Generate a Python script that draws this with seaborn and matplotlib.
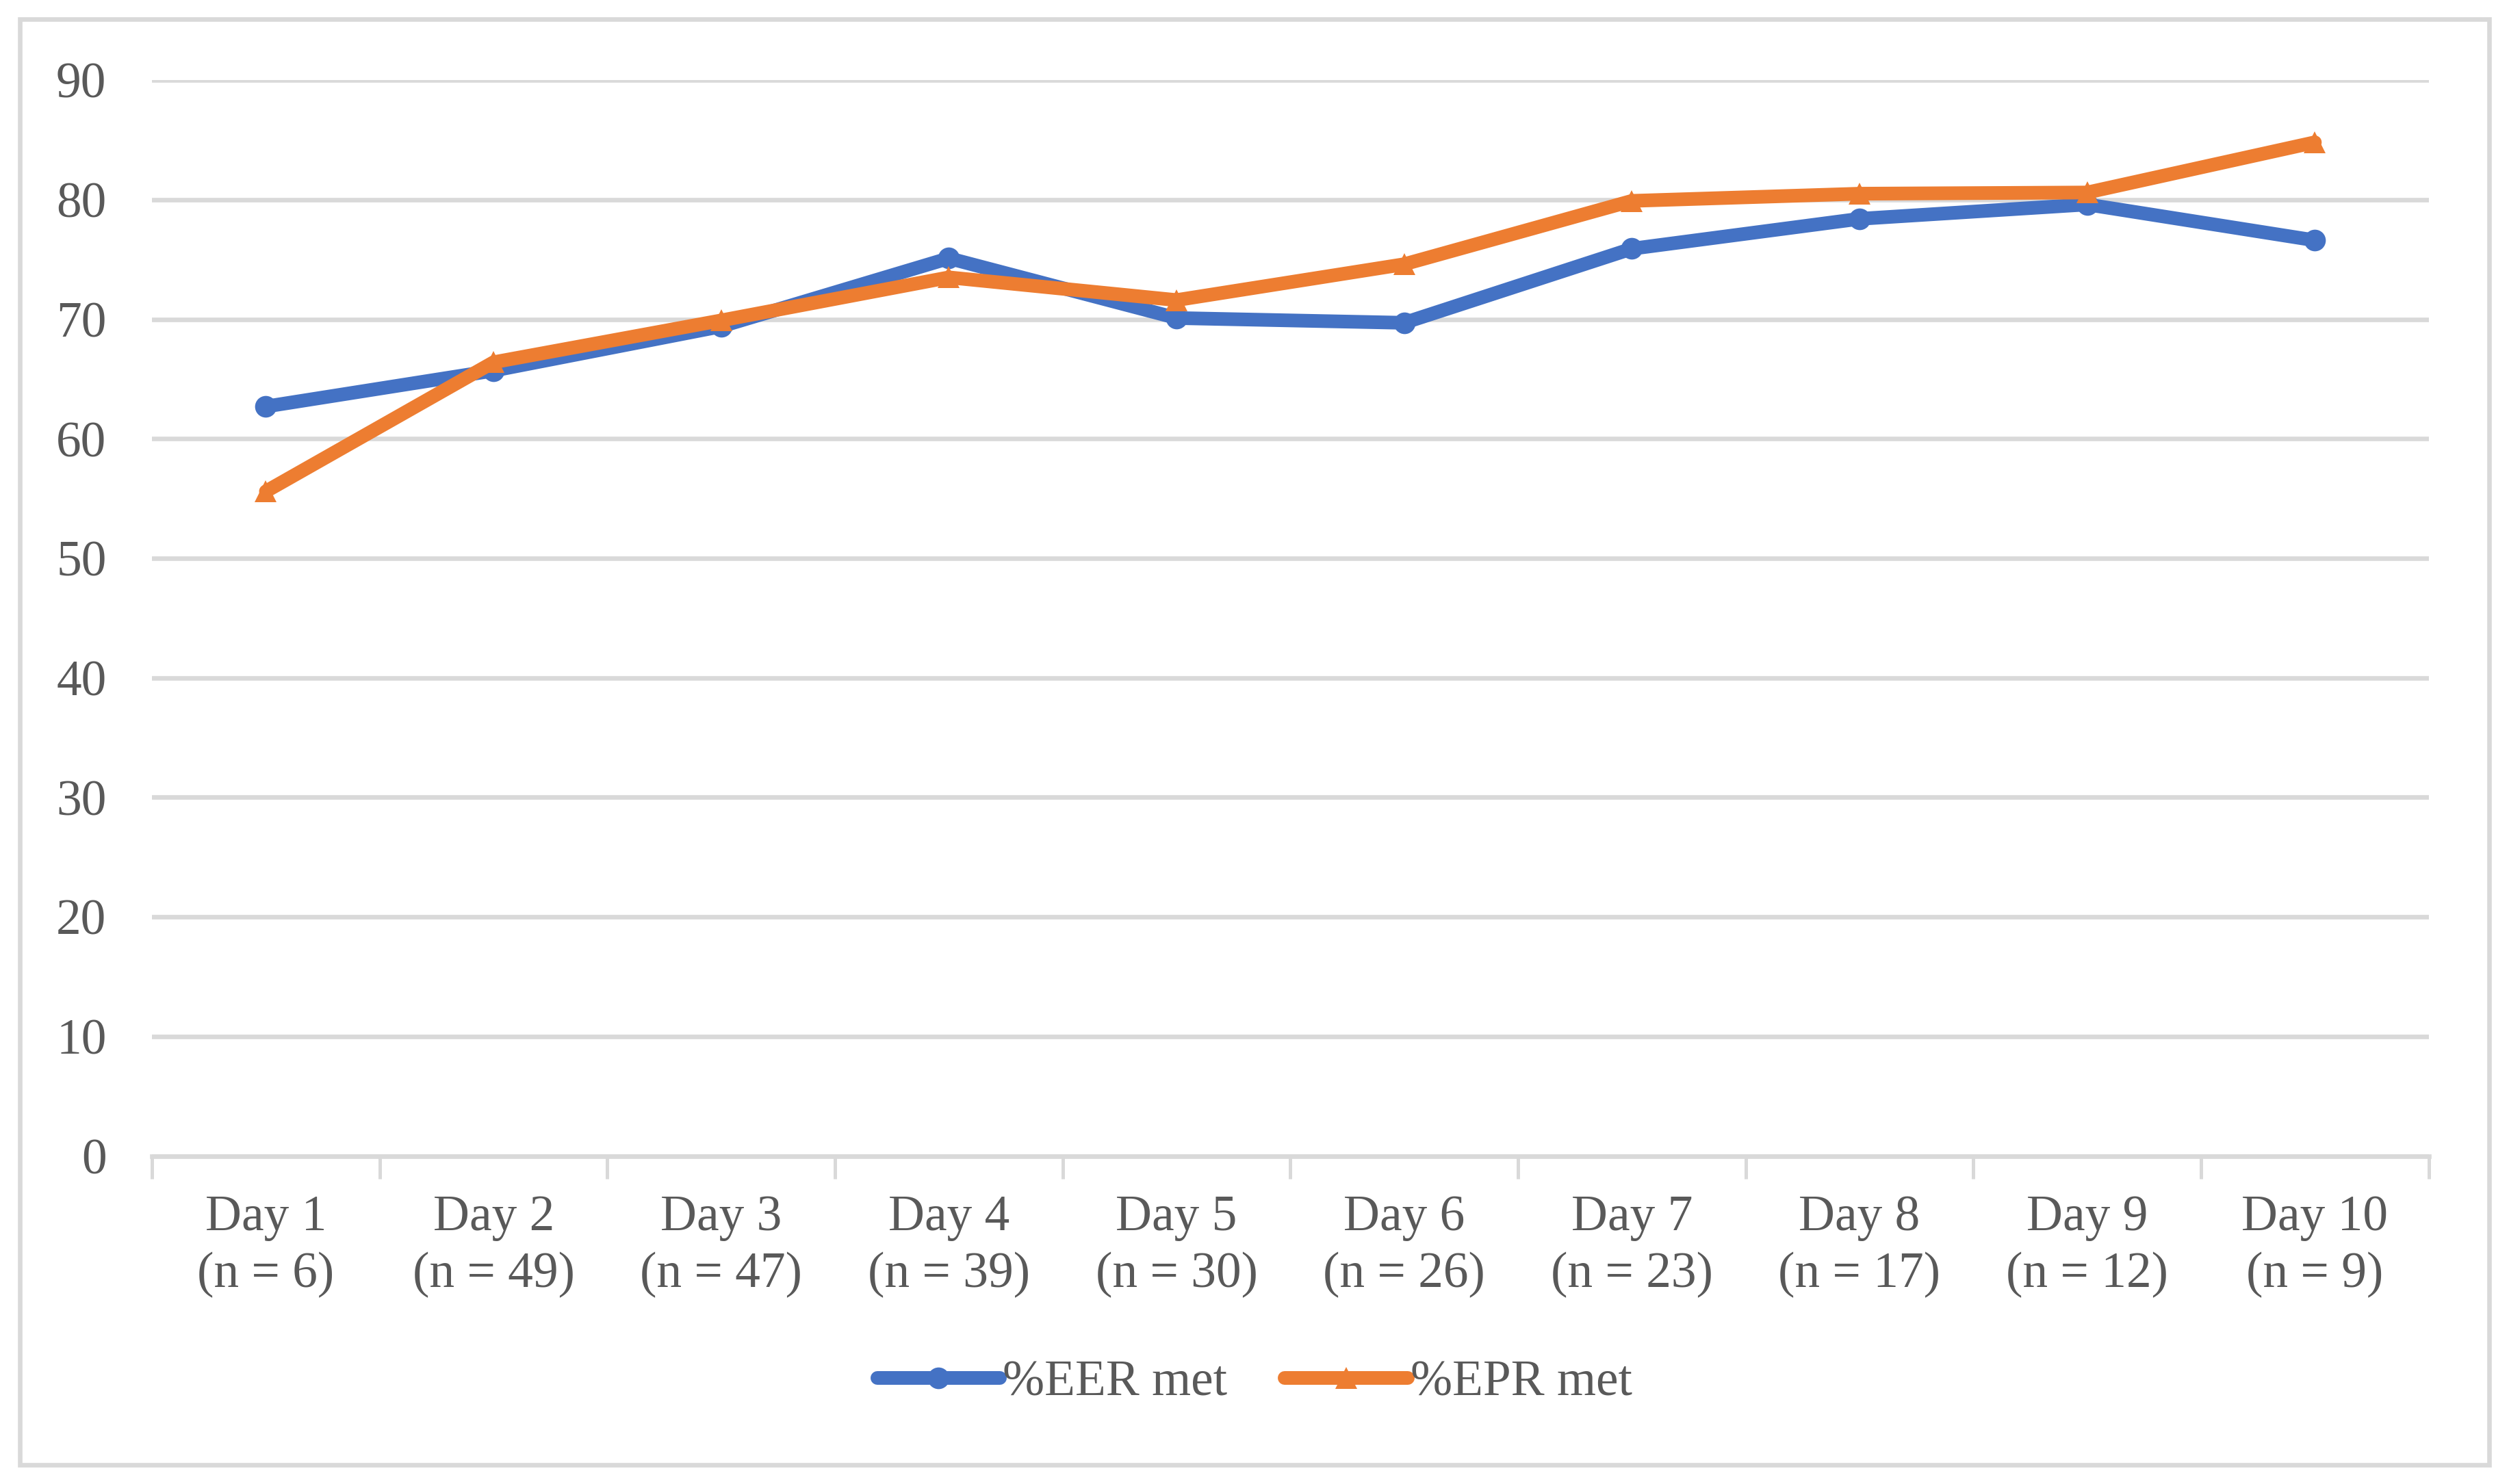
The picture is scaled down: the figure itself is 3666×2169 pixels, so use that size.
import numpy as np
import pandas as pd
import matplotlib
matplotlib.use("Agg")
import matplotlib.pyplot as plt
import seaborn as sns
from matplotlib.patches import Rectangle

days = ["Day 1", "Day 2", "Day 3", "Day 4", "Day 5",
        "Day 6", "Day 7", "Day 8", "Day 9", "Day 10"]
n_counts = [6, 49, 47, 39, 30, 26, 23, 17, 12, 9]
eer_met = [62.7, 65.7, 69.4, 75.1, 70.1, 69.7, 75.9, 78.4, 79.6, 76.6]
epr_met = [55.6, 66.4, 69.9, 73.5, 71.6, 74.6, 79.9, 80.5, 80.6, 84.8]
y_ticks = [0, 10, 20, 30, 40, 50, 60, 70, 80, 90]

labels = [f"{d}\n(n = {n})" for d, n in zip(days, n_counts)]

df = pd.DataFrame({
    "Day": labels * 2,
    "Value": eer_met + epr_met,
    "Series": ["%EER met"] * len(days) + ["%EPR met"] * len(days),
})

sns.set_theme(style="white")
plt.rcParams["font.family"] = ["Liberation Serif", "DejaVu Serif"]

text_color = "#595959"
grid_color = "#d9d9d9"
fs = 22

fig = plt.figure(figsize=(15.275, 9.0375), dpi=240)
ax = fig.add_axes([0.0606, 0.221, 0.9074, 0.725])

sns.lineplot(
    data=df, x="Day", y="Value", hue="Series", style="Series",
    palette={"%EER met": "#4472C4", "%EPR met": "#ED7D31"},
    markers={"%EER met": "o", "%EPR met": "^"},
    dashes=False, linewidth=6, markersize=9.5, markeredgewidth=0,
    sort=False, ax=ax, zorder=3,
)

ax.set_ylim(0, 90)
ax.set_xlim(-0.5, len(days) - 0.5)
ax.set_yticks(y_ticks)
ax.set_xticks(range(len(days)))
ax.set_xticklabels(labels)
ax.set_xticks(np.arange(-0.5, len(days), 1.0), minor=True)
ax.set_xlabel("")
ax.set_ylabel("")

ax.yaxis.grid(True, color=grid_color, linewidth=2.0, zorder=0)
ax.xaxis.grid(False)
ax.set_axisbelow(True)

for side in ["top", "right", "left"]:
    ax.spines[side].set_visible(False)
ax.spines["bottom"].set_color(grid_color)
ax.spines["bottom"].set_linewidth(2.0)

ax.tick_params(axis="x", which="major", length=0, pad=17,
               labelsize=fs, labelcolor=text_color)
ax.tick_params(axis="x", which="minor", length=10, width=1.5,
               color=grid_color, bottom=True)
ax.tick_params(axis="y", length=0, pad=20, labelsize=fs, labelcolor=text_color)
for lbl in ax.get_xticklabels():
    lbl.set_linespacing(1.3)

leg = ax.legend(
    loc="center", bbox_to_anchor=(0.5, 0.068), bbox_transform=fig.transFigure,
    ncol=2, frameon=False, fontsize=fs, handlelength=2.45,
    handletextpad=0.05, columnspacing=1.15,
)
for t in leg.get_texts():
    t.set_color(text_color)

fig.patches.append(Rectangle((0.008, 0.013), 0.984, 0.974, transform=fig.transFigure,
                             fill=False, edgecolor=grid_color, linewidth=2.0))

fig.savefig("out.png", dpi=240, facecolor="white")
